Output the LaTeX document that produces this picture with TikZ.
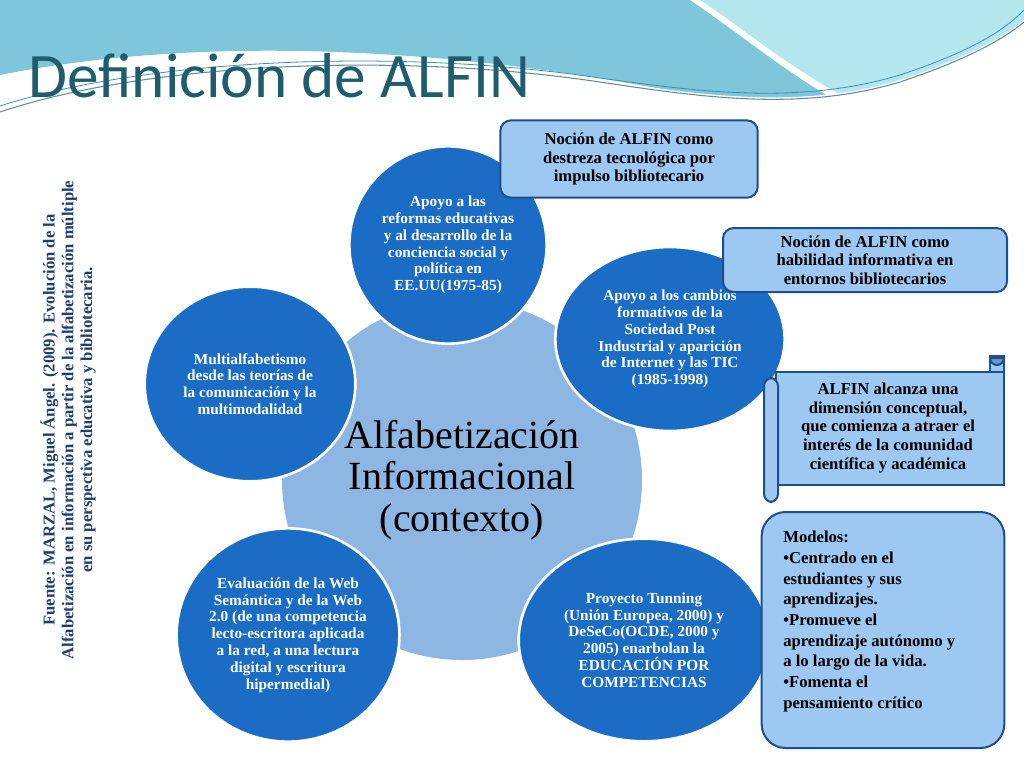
\documentclass[tikz,border=0pt]{standalone}
\usepackage{fontspec}
\setmainfont{Liberation Serif}
\newfontfamily\titlefont{Carlito}
\usetikzlibrary{shapes.geometric}
\definecolor{dblue}{HTML}{1A6CC4}
\definecolor{lblue}{HTML}{9CC8F2}
\definecolor{bord}{HTML}{1F4E8C}
\definecolor{navy}{HTML}{1F3F6E}
\definecolor{teal}{HTML}{1D5D6E}
\definecolor{bigc}{HTML}{8DB6E2}
\definecolor{wave1}{HTML}{7EC6D9}
\definecolor{wave2}{HTML}{B4E6EE}
\tikzset{
 small/.style={ellipse,fill=dblue,draw=white,line width=2pt,text=white,font=\bfseries\fontsize{11.5}{12.6}\selectfont,align=center,inner sep=0pt},
 callout/.style={draw=bord,line width=1.5pt,fill=lblue,rounded corners=8pt,font=\bfseries\fontsize{12.5}{14}\selectfont,align=center,text=black},
}
\begin{document}
\begin{tikzpicture}[x=0.75pt,y=-0.75pt]
\useasboundingbox (0,0) rectangle (1024,768);
% background wave
\fill[wave1] (0,0) -- (0,75) .. controls (250,25) and (550,60) .. (760,110) .. controls (880,140) and (960,90) .. (1024,40) -- (1024,0) -- cycle;
\fill[wave2] (700,0) .. controls (780,60) and (850,120) .. (920,125) .. controls (970,125) and (1000,80) .. (1024,40) -- (1024,0) -- cycle;
\fill[white] (700,0) .. controls (760,40) and (840,110) .. (920,125) -- (900,128) .. controls (830,110) and (750,40) .. (690,0) -- cycle;
\fill[white] (0,140) -- (0,110) .. controls (150,60) and (400,50) .. (600,80) .. controls (700,95) and (800,110) .. (900,80) .. controls (960,60) and (1000,40) .. (1024,20) -- (1024,768) -- (0,768) -- cycle;
\draw[teal!70,line width=0.8pt] (0,112) .. controls (150,62) and (400,52) .. (600,82) .. controls (700,97) and (800,112) .. (900,82) .. controls (960,62) and (1000,42) .. (1024,22);
\draw[cyan!70!black,line width=0.6pt] (0,106) .. controls (150,58) and (400,48) .. (600,78) .. controls (700,92) and (800,105) .. (900,75) .. controls (960,55) and (1000,35) .. (1024,10);
\node[anchor=base west,text=teal,font=\titlefont\fontsize{47.5}{50}\selectfont,inner sep=0pt] (title) at (28,97) {Definición de ALFIN};
% big circle
\node[circle,fill=bigc,minimum size=360pt*0.75,inner sep=0pt,align=center,font=\fontsize{30}{31}\selectfont] (big) at (462,480) {Alfabetización\\Informacional\\(contexto)};
% small circles
\node[small,minimum width=148pt,minimum height=148pt] (c1) at (448,245) {Apoyo a las\\reformas educativas\\y al desarrollo de la\\conciencia social y\\política en\\EE.UU(1975-85)};
\node[small,minimum width=172pt,minimum height=138pt] (c2) at (670,339) {Apoyo a los cambios\\formativos de la\\Sociedad Post\\Industrial y aparición\\de Internet y las TIC\\(1985-1998)};
\node[small,minimum width=158pt,minimum height=146pt] (c3) at (250,384) {Multialfabetismo\\desde las teorías de\\la comunicación y la\\multimodalidad};
\node[small,minimum width=162pt,minimum height=160pt] (c4) at (288,635) {Evaluación de la Web\\Semántica y de la Web\\2.0 (de una competencia\\lecto-escritora aplicada\\a la red, a una lectura\\digital y escritura\\hipermedial)};
\node[small,minimum width=188pt,minimum height=152pt] (c5) at (644,640) {Proyecto Tunning\\(Unión Europea, 2000) y\\DeSeCo(OCDE, 2000 y\\2005) enarbolan la\\EDUCACIÓN POR\\COMPETENCIAS};
% callouts
\node[callout,minimum width=193pt,minimum height=58pt] (a) at (629,159) {Noción de ALFIN como\\destreza tecnológica por\\impulso bibliotecario};
\node[callout,minimum width=213pt,minimum height=48pt] (b) at (865,260) {Noción de ALFIN como\\habilidad informativa en\\entornos bibliotecarios};
% scroll
\draw[bord,line width=1.5pt,fill=lblue] (990,356) rectangle (1004,380);
\draw[bord,line width=1.5pt,fill=lblue] (776,372) rectangle (1004,485);
\draw[bord,line width=1.5pt,fill=lblue,rounded corners=6pt] (764,378) rectangle (778,502);
\draw[bord,line width=1.5pt,fill=lblue!60!bord] (990,358) arc[start angle=180,end angle=0,radius=7] -- cycle;
\node[font=\bfseries\fontsize{12.5}{14}\selectfont,align=center] (s) at (888,428) {ALFIN alcanza una\\dimensión conceptual,\\que comienza a atraer el\\interés de la comunidad\\científica y académica};
% models
\node[draw=bord,line width=1.5pt,fill=lblue,rounded corners=18pt,minimum width=182pt,minimum height=177pt,inner sep=0pt] (m) at (883,630) {};
\node[anchor=north west,font=\bfseries\fontsize{12.5}{15.5}\selectfont,align=left,inner sep=0pt] (mt) at (783,531) {Modelos:\\•Centrado en el\\estudiantes y sus\\aprendizajes.\\•Promueve el\\aprendizaje autónomo y\\a lo largo de la vida.\\•Fomenta el\\pensamiento crítico};
% rotated source
\node[rotate=90,text=navy,font=\bfseries\fontsize{12.5}{14}\selectfont,align=center] (src) at (68,420) {Fuente: MARZAL, Miguel Ángel. (2009). Evolución de la\\Alfabetización en información a partir de la alfabetización múltiple\\en su perspectiva educativa y bibliotecaria.};
\end{tikzpicture}
\end{document}
